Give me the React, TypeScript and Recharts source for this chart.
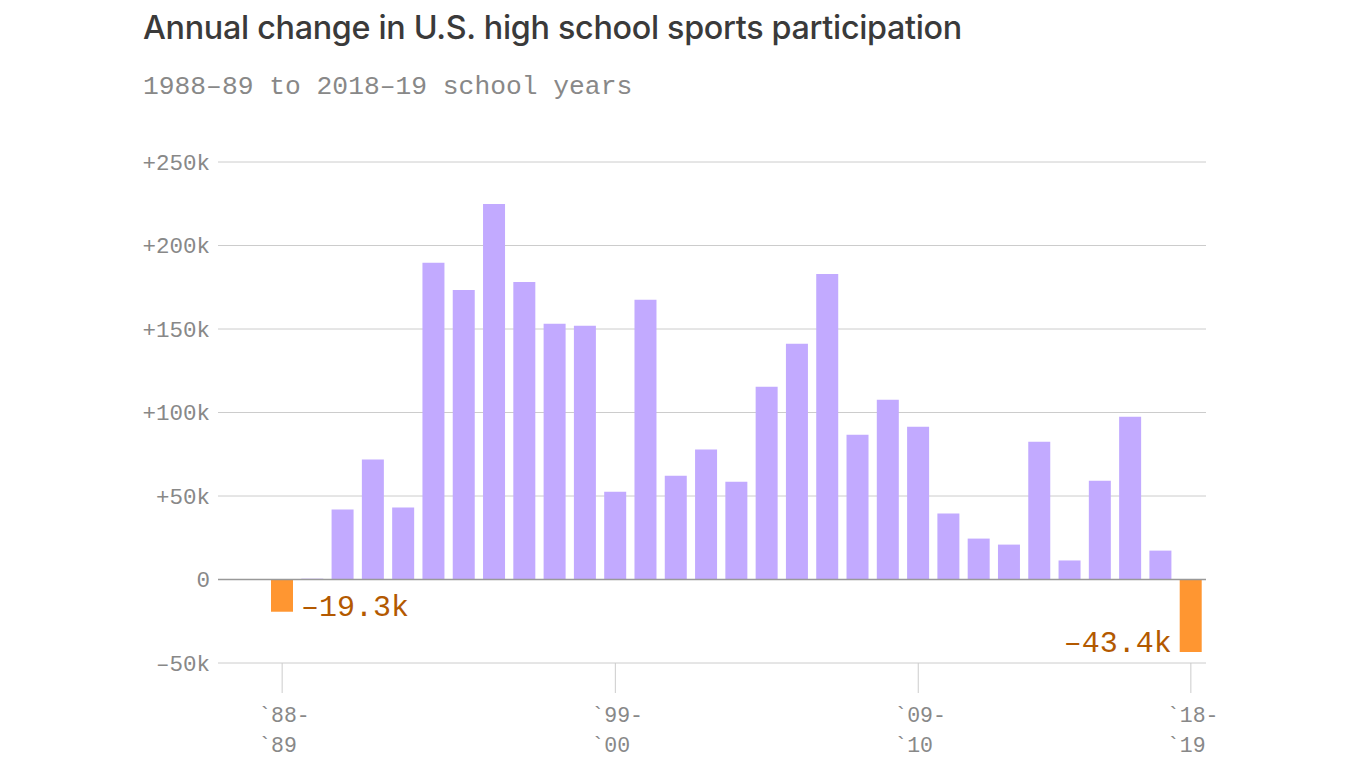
import { BarChart, Bar, XAxis, YAxis, CartesianGrid, ReferenceLine, Cell, LabelList } from "recharts"

const seasons = [
  "1988-89", "1989-90", "1990-91", "1991-92", "1992-93", "1993-94", "1994-95", "1995-96",
  "1996-97", "1997-98", "1998-99", "1999-00", "2000-01", "2001-02", "2002-03", "2003-04",
  "2004-05", "2005-06", "2006-07", "2007-08", "2008-09", "2009-10", "2010-11", "2011-12",
  "2012-13", "2013-14", "2014-15", "2015-16", "2016-17", "2017-18", "2018-19",
]

// annual change in participants
const changes = [
  -19300, 500, 41900, 71800, 43100, 189600, 173400, 224900, 178200, 153100, 151900,
  52600, 167500, 62200, 77800, 58600, 115400, 141100, 183000, 86700, 107700, 91500,
  39500, 24500, 20900, 82500, 11400, 59200, 97500, 17300, -43400,
]

const yTicks = [-50000, 0, 50000, 100000, 150000, 200000, 250000]

const tickSeasons = ["1988-89", "1999-00", "2009-10", "2018-19"]
const tickTop = ["`88-", "`99-", "`09-", "`18-"]
const tickBottom = ["`89", "`00", "`10", "`19"]

const labeled = [0, changes.length - 1]

const data = seasons.map((season, i) => ({ season, change: changes[i] }))

const MONO = "'Liberation Mono', 'DejaVu Sans Mono', monospace"
const PURPLE = "#c2aaff"
const ORANGE = "#ff9631"
const LABEL = "#b35900"

const fmtY = (v: number) => (v === 0 ? "0" : v > 0 ? `+${v / 1000}k` : `–${Math.abs(v) / 1000}k`)

function XTick(props: any) {
  const { x, y, payload } = props
  const i = tickSeasons.indexOf(payload.value)
  if (i < 0) return null
  return (
    <g>
      <line x1={x} x2={x} y1={y} y2={y + 30} stroke="#ccc" strokeWidth={1} />
      <text x={x - 24} y={y + 59} fontFamily={MONO} fontSize={21.5} fill="#888">
        {tickTop[i]}
      </text>
      <text x={x - 24} y={y + 89} fontFamily={MONO} fontSize={21.5} fill="#888">
        {tickBottom[i]}
      </text>
    </g>
  )
}

function EndLabel(props: any) {
  const { x, y, width, height, value, index } = props
  if (!labeled.includes(index)) return null
  const bottom = Math.max(y, y + height)
  const text = `–${(Math.abs(value) / 1000).toFixed(1)}k`
  if (index === 0) {
    return (
      <text x={x + width + 8} y={bottom + 4} fontFamily={MONO} fontSize={30} fill={LABEL}>
        {text}
      </text>
    )
  }
  return (
    <text x={x - 8} y={bottom} textAnchor="end" fontFamily={MONO} fontSize={30} fill={LABEL}>
      {text}
    </text>
  )
}

export default function App() {
  return (
    <div style={{ position: "absolute", left: 0, top: 0, width: 1366, height: 768, background: "#fff" }}>
      <div
        style={{
          position: "absolute",
          left: 143,
          top: 8,
          fontFamily: "Inter, sans-serif",
          fontWeight: 500,
          fontSize: 32.3,
          color: "#3a3a3a",
          whiteSpace: "nowrap",
          letterSpacing: -0.3,
        }}
      >
        Annual change in U.S. high school sports participation
      </div>
      <div
        style={{
          position: "absolute",
          left: 143,
          top: 72,
          fontFamily: MONO,
          fontSize: 26.3,
          color: "#888",
          whiteSpace: "nowrap",
        }}
      >
        1988–89 to 2018–19 school years
      </div>
      <BarChart
        width={1366}
        height={768}
        data={data}
        margin={{ top: 162, right: 160, bottom: 0, left: 0 }}
        barSize={22}
      >
        <CartesianGrid vertical={false} stroke="#ccc" />
        <XAxis
          dataKey="season"
          interval={0}
          axisLine={false}
          tickLine={false}
          tickSize={0}
          tickMargin={0}
          height={105}
          padding={{ left: 49, right: 0 }}
          tick={<XTick />}
        />
        <YAxis
          width={218}
          domain={[-50000, 250000]}
          ticks={yTicks}
          tickFormatter={fmtY}
          axisLine={false}
          tickLine={false}
          tick={{ fontFamily: MONO, fontSize: 22.5, fill: "#888" }}
        />
        <Bar dataKey="change" isAnimationActive={false}>
          {data.map((d, i) => (
            <Cell key={i} fill={d.change < 0 ? ORANGE : PURPLE} />
          ))}
          <LabelList dataKey="change" content={<EndLabel />} />
        </Bar>
        <ReferenceLine y={0} stroke="#999" strokeWidth={1.5} />
      </BarChart>
    </div>
  )
}
